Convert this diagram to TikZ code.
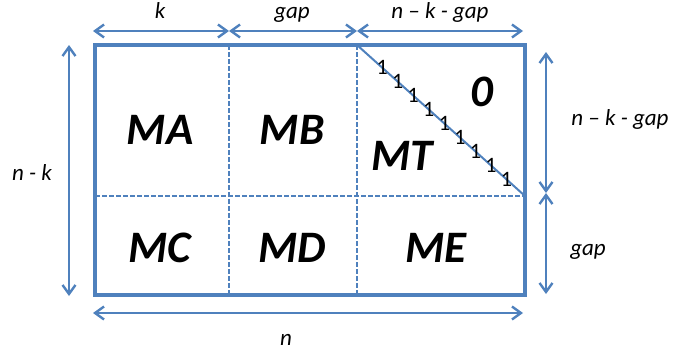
\documentclass[tikz,border=0pt]{standalone}
\usepackage{fontspec}
\setmainfont{Carlito}
\usepackage{tikz}
\usetikzlibrary{arrows.meta,positioning,calc}
\definecolor{boxc}{HTML}{4F81BD}
\tikzset{
  x=1pt,y=-1pt,
  dim/.style={{Straight Barb[length=9pt,width=13pt]}-{Straight Barb[length=9pt,width=13pt]},draw=boxc,line width=2.4pt},
  frame/.style={draw=boxc,line width=3.2pt},
  split/.style={draw=boxc,line width=1.9pt,dash pattern=on 4.5pt off 2.5pt},
  diag/.style={draw=boxc,line width=2pt},
  blk/.style={font=\fontsize{45}{45}\selectfont\bfseries\itshape,inner sep=0pt},
  lbl/.style={font=\fontsize{23}{23}\selectfont\itshape,inner sep=0pt,anchor=base},
  one/.style={font=\fontsize{22}{22}\selectfont,inner sep=0pt},
}
\begin{document}
\begin{tikzpicture}
  \useasboundingbox (0,0) rectangle (673,356);
  % corners and split points of the matrix
  \coordinate (nw) at (95,45);
  \coordinate (ne) at (525,45);
  \coordinate (sw) at (95,295);
  \coordinate (se) at (525,295);
  \coordinate (t1) at (229,45);  \coordinate (b1) at (229,295);
  \coordinate (t2) at (357,45);  \coordinate (b2) at (357,295);
  \coordinate (ml) at (95,196);  \coordinate (mr) at (525,196);
  \draw[split] (t1) -- (b1);
  \draw[split] (t2) -- (b2);
  \draw[split] (ml) -- (mr);
  \draw[diag] (t2) -- (mr);
  \draw[frame] (nw) rectangle (se);
  \foreach \i in {0,...,8}
    \node[one] (o\i) at ($(t2)!{0.15+\i*0.0925}!(mr)$) {1};
  % blocks
  \node[blk] (MA) at (160,130) {MA};
  \node[blk] (MB) at (292,130) {MB};
  \node[blk] (MT) at (402,156) {MT};
  \node[blk] (Z)  at (482,92)  {0};
  \node[blk] (MC) at (160,248) {MC};
  \node[blk] (MD) at (292,248) {MD};
  \node[blk] (ME) at (436,248) {ME};
  % dimension arrows
  \coordinate (a0) at (93,31);  \coordinate (a1) at (229,31);
  \coordinate (a2) at (357,31); \coordinate (a3) at (523,31);
  \draw[dim] (a0) -- (a1);
  \draw[dim] (a1) -- (a2);
  \draw[dim] (a2) -- (a3);
  \coordinate (l0) at (69,45);  \coordinate (l1) at (69,296);
  \draw[dim] (l0) -- (l1);
  \coordinate (r0) at (546,52); \coordinate (r1) at (546,193); \coordinate (r2) at (546,294);
  \draw[dim] (r0) -- (r1);
  \draw[dim] (r1) -- (r2);
  \coordinate (d0) at (93,313); \coordinate (d1) at (523,313);
  \draw[dim] (d0) -- (d1);
  % labels
  \node[lbl] (lk) at (160,19) {k};
  \node[lbl] (lg) at (292,19) {gap};
  \node[lbl] (lr) at (440,19) {n -- k - gap};
  \node[lbl] (lnk) at (32,180) {n - k};
  \node[lbl] (lr2) at (620,125) {n -- k - gap};
  \node[lbl] (lg2) at (588,255) {gap};
  \node[lbl] (ln) at (286,345) {n};
\end{tikzpicture}
\end{document}
